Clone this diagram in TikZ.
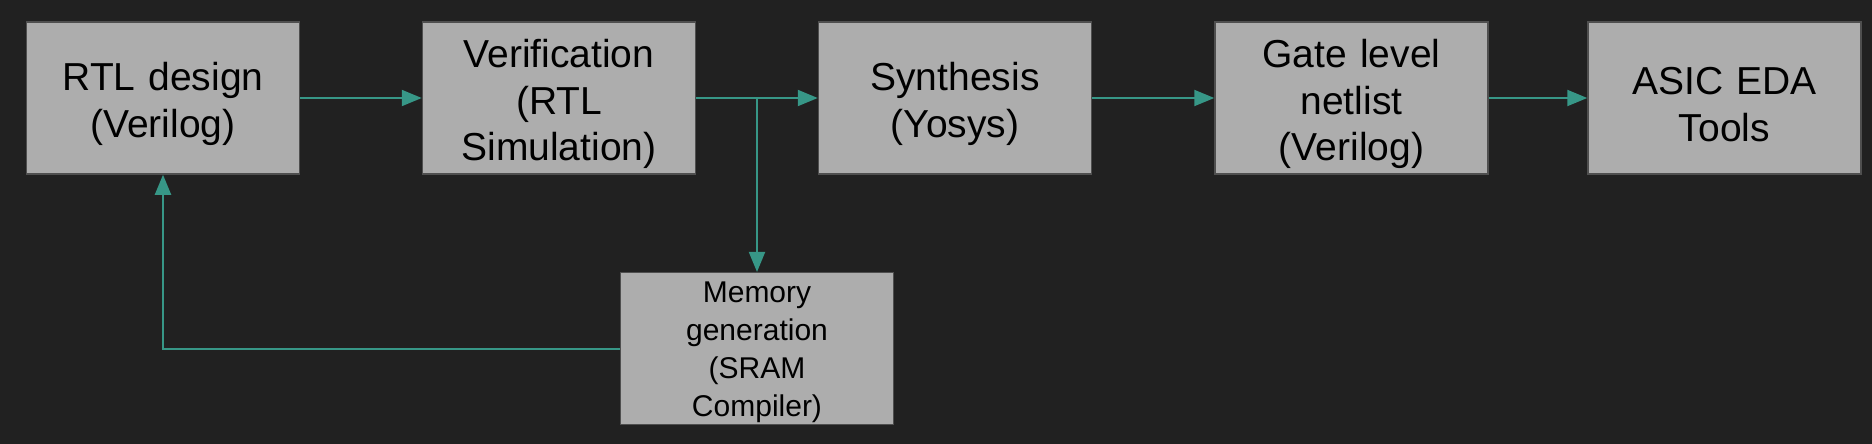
\documentclass[tikz,border=0pt]{standalone}
\usepackage{fontspec}
\setmainfont{Liberation Sans}
\usetikzlibrary{arrows.meta,calc}
\definecolor{bg}{HTML}{212121}
\definecolor{boxfill}{HTML}{ADADAD}
\definecolor{boxline}{HTML}{4F4F4F}
\definecolor{teal}{HTML}{379787}
\begin{document}
\begin{tikzpicture}[x=1pt,y=-1pt,
  stagebox/.style={draw=boxline,line width=1.5pt,fill=boxfill,minimum width=273pt,minimum height=152pt,inner sep=0pt,align=center,text width=265pt,font=\fontsize{39}{46.7}\selectfont,execute at begin node={\rule{0pt}{40.5pt}}},
  smallbox/.style={draw=boxline,line width=1.5pt,fill=boxfill,minimum width=273pt,minimum height=152pt,inner sep=0pt,align=center,text width=265pt,font=\fontsize{30}{38}\selectfont,execute at end node={\vspace*{-8pt}}},
  flow/.style={draw=teal,line width=2pt,-{Triangle[length=20pt,width=16pt]}}]
\fill[bg] (0,0) rectangle (1872,444);
\useasboundingbox (0,0) rectangle (1872,444);
\node[stagebox] (rtl) at (163,98) {RTL design\\(Verilog)};
\node[stagebox] (ver) at (559,98) {Verification\\(RTL\\Simulation)};
\node[stagebox] (syn) at (955,98) {Synthesis\\(Yosys)};
\node[stagebox] (gate) at (1351.5,98) {Gate level\\netlist\\(Verilog)};
\node[stagebox] (asic) at (1724.5,98) {ASIC EDA\\Tools};
\node[smallbox] (mem) at (757,348.7) {Memory\\generation\\(SRAM\\Compiler)};
\coordinate (br) at (mem.north |- ver.east);
\draw[flow] (rtl.east) -- (ver.west);
\draw[flow] (ver.east) -- (syn.west);
\draw[flow] (br) -- (mem.north);
\draw[flow] (syn.east) -- (gate.west);
\draw[flow] (gate.east) -- (asic.west);
\draw[flow] (mem.west) -- (rtl.south |- mem.west) -- (rtl.south);
\end{tikzpicture}
\end{document}
